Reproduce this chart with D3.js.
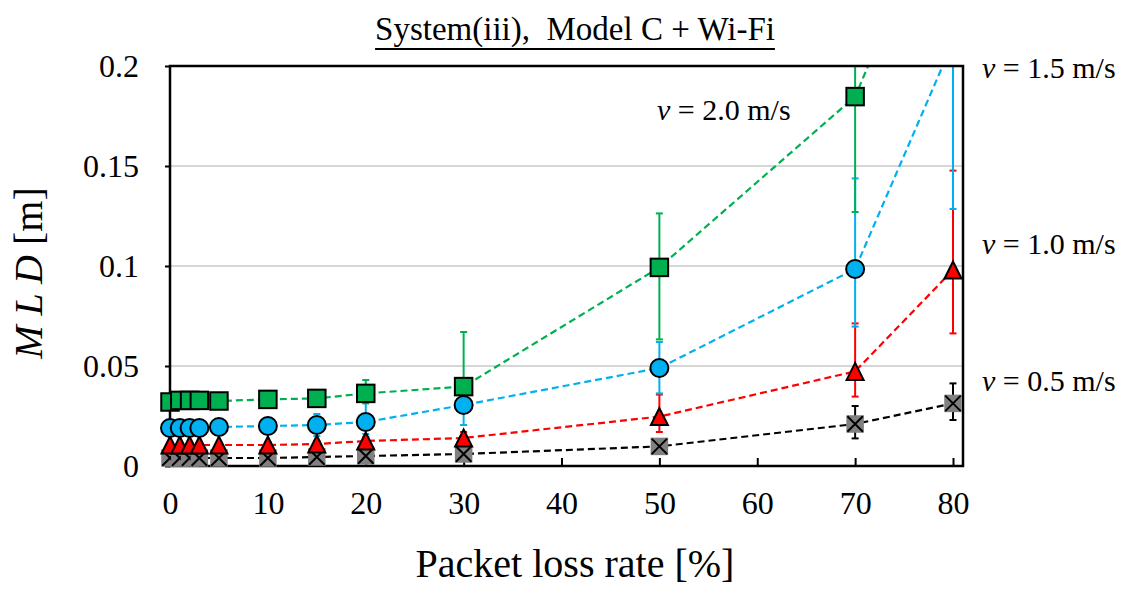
<!DOCTYPE html>
<html>
<head>
<meta charset="utf-8">
<script src="https://cdn.jsdelivr.net/npm/d3@7"></script>
<style>
  html, body { margin: 0; padding: 0; background: #fff; }
  svg { display: block; font-family: "Liberation Serif", "Times New Roman", serif; }
</style>
</head>
<body>
<svg id="chart" width="1123" height="593"></svg>
<script>
// ---------------- data ----------------
const lossRate = [0, 1, 2, 3, 5, 10, 15, 20, 30, 50, 70, 80];

const mld05   = [0.004, 0.004, 0.004, 0.004, 0.004, 0.004, 0.0045, 0.005, 0.006, 0.0098, 0.021, 0.0313];
const plus05  = [0.001, 0.001, 0.001, 0.001, 0.001, 0.001, 0.001, 0.001, 0.0015, 0.002, 0.009, 0.010];
const minus05 = [0.001, 0.001, 0.001, 0.001, 0.001, 0.001, 0.001, 0.001, 0.0015, 0.002, 0.0072, 0.0083];

const mld10   = [0.0105, 0.0105, 0.0105, 0.0105, 0.0105, 0.0105, 0.011, 0.0125, 0.014, 0.0247, 0.0473, 0.098];
const plus10  = [0.001, 0.001, 0.001, 0.001, 0.001, 0.0015, 0.0015, 0.002, 0.003, 0.011, 0.024, 0.0497];
const minus10 = [0.001, 0.001, 0.001, 0.001, 0.001, 0.0015, 0.0015, 0.002, 0.003, 0.0077, 0.0126, 0.0317];

const mld15   = [0.019, 0.019, 0.019, 0.019, 0.0195, 0.020, 0.0205, 0.022, 0.0305, 0.049, 0.0985, 0.212];
const plus15  = [0.0015, 0.0015, 0.0015, 0.0015, 0.0015, 0.003, 0.0055, 0.010, 0.010, 0.013, 0.0453, 0.10];
const minus15 = [0.0015, 0.0015, 0.0015, 0.0015, 0.0015, 0.003, 0.0055, 0.006, 0.010, 0.0127, 0.0288, 0.0835];

const mld20   = [0.032, 0.0328, 0.0328, 0.0328, 0.0325, 0.0333, 0.0338, 0.0363, 0.0397, 0.0993, 0.1847, 0.30];
const plus20  = [0.002, 0.002, 0.002, 0.002, 0.002, 0.002, 0.003, 0.0067, 0.0273, 0.027, 0.06, 0.09];
const minus20 = [0.002, 0.002, 0.002, 0.002, 0.002, 0.002, 0.003, 0.005, 0.010, 0.036, 0.0577, 0.09];

const seriesNames = ["v = 0.5 m/s", "v = 1.0 m/s", "v = 1.5 m/s", "v = 2.0 m/s"];
const xTicks = [0, 10, 20, 30, 40, 50, 60, 70, 80];
const yTicks = [0, 0.05, 0.1, 0.15, 0.2];
const yTickLabels = ["0", "0.05", "0.1", "0.15", "0.2"];

const titleText = "System(iii),  Model C + Wi-Fi";
const xTitle = "Packet loss rate [%]";

// ---------------- styles ----------------
const styles = [
  { color: "#000000", fill: "#808080", shape: "xsquare" },
  { color: "#FF0000", fill: "#FF0000", shape: "triangle" },
  { color: "#00B0F0", fill: "#00B0F0", shape: "circle" },
  { color: "#00B050", fill: "#00B050", shape: "square" }
];
const series = [
  { v: mld05, p: plus05, m: minus05 },
  { v: mld10, p: plus10, m: minus10 },
  { v: mld15, p: plus15, m: minus15 },
  { v: mld20, p: plus20, m: minus20 }
].map((s, i) => ({
  name: seriesNames[i],
  style: styles[i],
  pts: lossRate.map((x, j) => ({ x, y: s.v[j], hi: s.v[j] + s.p[j], lo: s.v[j] - s.m[j] }))
}));

// ---------------- layout ----------------
const svg = d3.select("#chart");
const L = 170, T = 66, B = 466, R = 963;
const x = d3.scaleLinear().domain([0, 80]).range([L, 953]);
const y = d3.scaleLinear().domain([0, 0.2]).range([B, T]);

svg.append("defs").append("clipPath").attr("id", "plotclip")
  .append("rect").attr("x", L).attr("y", T).attr("width", R - L).attr("height", B - T);

// gridlines
svg.append("g").selectAll("line").data(yTicks.filter(t => t > 0 && t < 0.2)).join("line")
  .attr("x1", L).attr("x2", R).attr("y1", d => y(d)).attr("y2", d => y(d))
  .attr("stroke", "#C8C8C8").attr("stroke-width", 1.5);

// error bars (order: 0.5, 1.0, 1.5, 2.0)
const eb = svg.append("g").attr("clip-path", "url(#plotclip)");
series.forEach(s => {
  const g = eb.append("g").attr("stroke", s.style.color).attr("stroke-width", 2).attr("fill", "none");
  s.pts.forEach(p => {
    g.append("line").attr("x1", x(p.x)).attr("x2", x(p.x)).attr("y1", y(p.hi)).attr("y2", y(p.lo));
    g.append("line").attr("x1", x(p.x) - 3.5).attr("x2", x(p.x) + 3.5).attr("y1", y(p.hi)).attr("y2", y(p.hi));
    g.append("line").attr("x1", x(p.x) - 3.5).attr("x2", x(p.x) + 3.5).attr("y1", y(p.lo)).attr("y2", y(p.lo));
  });
});

// dashed lines
const lineGen = d3.line().x(d => x(d.x)).y(d => y(d.y));
const lg = svg.append("g").attr("clip-path", "url(#plotclip)");
series.forEach(s => {
  lg.append("path").datum(s.pts).attr("d", lineGen)
    .attr("fill", "none").attr("stroke", s.style.color)
    .attr("stroke-width", 2.2).attr("stroke-dasharray", "7,4");
});

// axes frame
const axG = svg.append("g");
const xAxis = d3.axisBottom(x).tickValues(xTicks).tickSize(-8).tickSizeOuter(0).tickFormat(d3.format("d"));
const gx = axG.append("g").attr("transform", `translate(0,${B})`).call(xAxis);
gx.select(".domain").remove();
gx.selectAll(".tick line").attr("stroke", "#000").attr("stroke-width", 2);
gx.selectAll(".tick text").attr("y", 48).attr("dy", 0)
  .attr("font-size", 32).attr("fill", "#000").attr("font-family", "Liberation Serif");

const yAxis = d3.axisLeft(y).tickValues(yTicks).tickSize(5).tickSizeOuter(0)
  .tickFormat((d, i) => yTickLabels[i]);
const gy = axG.append("g").attr("transform", `translate(${L},0)`).call(yAxis);
gy.select(".domain").remove();
gy.selectAll(".tick line").attr("stroke", "#000").attr("stroke-width", 2);
gy.selectAll(".tick text").attr("x", -31).attr("dy", "0.33em")
  .attr("font-size", 32).attr("fill", "#000").attr("font-family", "Liberation Serif");

axG.append("rect").attr("x", L).attr("y", T).attr("width", R - L).attr("height", B - T)
  .attr("fill", "none").attr("stroke", "#000").attr("stroke-width", 2.5);

// markers
const mg = svg.append("g");
const sz = 17.5;
series.forEach(s => {
  const st = s.style;
  const pts = s.pts.filter(p => p.y <= 0.2);
  const g = mg.append("g");
  pts.forEach(p => {
    const cx = x(p.x), cy = y(p.y);
    if (st.shape === "xsquare") {
      g.append("rect").attr("x", cx - sz / 2).attr("y", cy - sz / 2).attr("width", sz).attr("height", sz)
        .attr("fill", st.fill);
      const h = sz / 2 - 1;
      g.append("path").attr("d", `M${cx - h},${cy - h}L${cx + h},${cy + h}M${cx - h},${cy + h}L${cx + h},${cy - h}`)
        .attr("stroke", "#000").attr("stroke-width", 2);
    } else if (st.shape === "triangle") {
      const h = 8.5;
      g.append("path").attr("d", `M${cx},${cy - h}L${cx + h},${cy + h}L${cx - h},${cy + h}Z`)
        .attr("fill", st.fill).attr("stroke", "#000").attr("stroke-width", 2).attr("stroke-linejoin", "miter");
    } else if (st.shape === "circle") {
      g.append("circle").attr("cx", cx).attr("cy", cy).attr("r", 9)
        .attr("fill", st.fill).attr("stroke", "#000").attr("stroke-width", 2);
    } else {
      g.append("rect").attr("x", cx - sz / 2).attr("y", cy - sz / 2).attr("width", sz).attr("height", sz)
        .attr("fill", st.fill).attr("stroke", "#000").attr("stroke-width", 2);
    }
  });
});

// title
const title = svg.append("text").attr("x", 575).attr("y", 40).attr("text-anchor", "middle")
  .attr("font-size", 33).attr("fill", "#000").style("white-space", "pre").attr("xml:space", "preserve")
  .text(titleText);
const tb = title.node().getBBox();
svg.append("line").attr("x1", tb.x).attr("x2", tb.x + tb.width).attr("y1", 49).attr("y2", 49)
  .attr("stroke", "#000").attr("stroke-width", 2);

// axis titles
svg.append("text").attr("x", 575).attr("y", 577).attr("text-anchor", "middle")
  .attr("font-size", 40).attr("fill", "#000").text(xTitle);

const yt = svg.append("text").attr("transform", "translate(42,273) rotate(-90)")
  .attr("text-anchor", "middle").attr("font-size", 40).attr("fill", "#000");
yt.append("tspan").attr("font-style", "italic").text("M L D");
yt.append("tspan").text(" [m]");

// series labels
function vLabel(xp, yp, txt) {
  const t = svg.append("text").attr("x", xp).attr("y", yp).attr("font-size", 30).attr("fill", "#000");
  t.append("tspan").attr("font-style", "italic").text("v");
  t.append("tspan").text(txt.slice(1));
}
vLabel(982, 78, seriesNames[2]);
vLabel(982, 254, seriesNames[1]);
vLabel(982, 391, seriesNames[0]);
vLabel(657, 120, seriesNames[3]);
</script>
</body>
</html>
